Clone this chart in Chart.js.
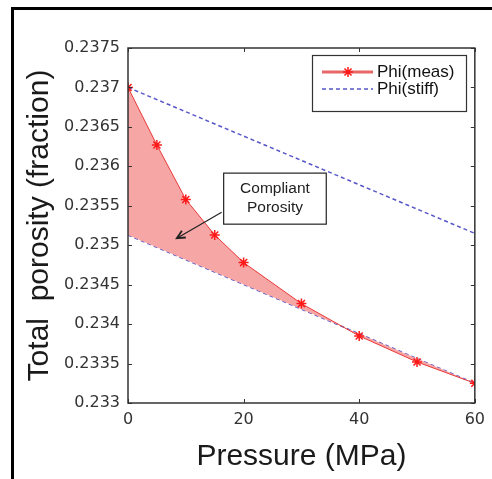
<!DOCTYPE html>
<html>
<head>
<meta charset="utf-8">
<script src="https://cdn.jsdelivr.net/npm/chart.js@4.4.1/dist/chart.umd.min.js"></script>
<style>
  body { margin: 0; background: #fff; }
  canvas { display: block; }
</style>
</head>
<body>
<canvas id="porosity-chart" width="492" height="479"></canvas>
<script>
// pressure steps (MPa) and measured total porosity
var pressure = [0, 5, 10, 15, 20, 30, 40, 50, 60];
var phiMeas = [0.23700, 0.23627, 0.23558, 0.23513, 0.23478, 0.23426, 0.23385, 0.23352, 0.23325];

// stiff porosity lines (end points)
var stiffPressure = [0, 60];
var phiStiffTop = [0.23700, 0.23515];
var phiStiffLow = [0.23513, 0.23325];

var xTicks = [0, 20, 40, 60];
var yTicks = [0.233, 0.2335, 0.234, 0.2345, 0.235, 0.2355, 0.236, 0.2365, 0.237, 0.2375];
var seriesNames = ["Phi(meas)", "Phi(stiff)"];
var noteLines = ["Compliant", "Porosity"];

// note box and arrow, in data units
var noteBox = { x0: 16.55, y0: 0.235914, x1: 34.3, y1: 0.235267 };
var noteArrow = { x0: 16.2, y0: 0.235419, x1: 8.45, y1: 0.235089 };

var RED = "#ff1a1a";
var BLUE = "#5656c8";

function toXY(xs, ys) {
  var pts = [];
  for (var i = 0; i < xs.length; i++) pts.push({ x: xs[i], y: ys[i] });
  return pts;
}

function drawStar(ctx, x, y, r) {
  ctx.beginPath();
  for (var a = 0; a < 4; a++) {
    var ang = a * Math.PI / 4;
    ctx.moveTo(x - r * Math.cos(ang), y - r * Math.sin(ang));
    ctx.lineTo(x + r * Math.cos(ang), y + r * Math.sin(ang));
  }
  ctx.stroke();
}

var decorations = {
  id: "decorations",
  beforeDraw: function (chart) {
    var ctx = chart.ctx;
    ctx.save();
    ctx.fillStyle = "#fff";
    ctx.fillRect(0, 0, chart.width, chart.height);
    // outer frame (only top and left visible)
    ctx.strokeStyle = "#000";
    ctx.lineWidth = 3;
    ctx.beginPath();
    ctx.moveTo(12.5, chart.height);
    ctx.lineTo(12.5, 8.5);
    ctx.lineTo(chart.width, 8.5);
    ctx.stroke();
    ctx.restore();
  },
  afterDraw: function (chart) {
    var ctx = chart.ctx;
    var a = chart.chartArea;
    var xs = chart.scales.x, ys = chart.scales.y;
    ctx.save();

    // box around plot
    ctx.strokeStyle = "#333";
    ctx.lineWidth = 1.5;
    ctx.strokeRect(a.left, a.top, a.right - a.left, a.bottom - a.top);

    // inner tick marks on all four sides
    ctx.lineWidth = 1;
    ctx.beginPath();
    xs.ticks.forEach(function (t) {
      var px = Math.round(xs.getPixelForValue(t.value)) + 0.5;
      ctx.moveTo(px, a.bottom); ctx.lineTo(px, a.bottom - 4);
      ctx.moveTo(px, a.top); ctx.lineTo(px, a.top + 4);
    });
    ys.ticks.forEach(function (t) {
      var py = Math.round(ys.getPixelForValue(t.value)) + 0.5;
      ctx.moveTo(a.left, py); ctx.lineTo(a.left + 4, py);
      ctx.moveTo(a.right, py); ctx.lineTo(a.right - 4, py);
    });
    ctx.stroke();

    // legend
    var lx = 312, ly = 55, lw = 154, lh = 56;
    ctx.fillStyle = "#fff";
    ctx.fillRect(lx, ly, lw, lh);
    ctx.strokeStyle = "#333";
    ctx.lineWidth = 1.2;
    ctx.strokeRect(lx + 0.5, ly + 0.5, lw, lh);

    ctx.lineWidth = 3;
    ctx.strokeStyle = "#e86868";
    ctx.beginPath(); ctx.moveTo(322, 72); ctx.lineTo(373, 72); ctx.stroke();
    ctx.strokeStyle = RED;
    ctx.lineWidth = 1.5;
    drawStar(ctx, 348, 72, 5);

    ctx.strokeStyle = BLUE;
    ctx.lineWidth = 1.5;
    ctx.setLineDash([4, 3]);
    ctx.beginPath(); ctx.moveTo(322, 89); ctx.lineTo(373, 89); ctx.stroke();
    ctx.setLineDash([]);

    ctx.fillStyle = "#111";
    ctx.font = "17px 'Liberation Sans', Arial, sans-serif";
    ctx.textAlign = "left";
    ctx.textBaseline = "middle";
    ctx.fillText(seriesNames[0], 377, 72);
    ctx.fillText(seriesNames[1], 377, 89);

    // note box
    var bx0 = xs.getPixelForValue(noteBox.x0), by0 = ys.getPixelForValue(noteBox.y0);
    var bx1 = xs.getPixelForValue(noteBox.x1), by1 = ys.getPixelForValue(noteBox.y1);
    ctx.fillStyle = "#fff";
    ctx.fillRect(bx0, by0, bx1 - bx0, by1 - by0);
    ctx.strokeStyle = "#222";
    ctx.lineWidth = 1.2;
    ctx.strokeRect(bx0, by0, bx1 - bx0, by1 - by0);
    ctx.fillStyle = "#222";
    ctx.font = "15.5px 'Liberation Sans', Arial, sans-serif";
    ctx.textAlign = "center";
    var cx = (bx0 + bx1) / 2, cy = (by0 + by1) / 2;
    ctx.fillText(noteLines[0], cx, cy - 10);
    ctx.fillText(noteLines[1], cx, cy + 9);

    // arrow
    var ax0 = xs.getPixelForValue(noteArrow.x0), ay0 = ys.getPixelForValue(noteArrow.y0);
    var ax1 = xs.getPixelForValue(noteArrow.x1), ay1 = ys.getPixelForValue(noteArrow.y1);
    ctx.strokeStyle = "#222";
    ctx.lineWidth = 1.2;
    ctx.beginPath(); ctx.moveTo(ax0, ay0); ctx.lineTo(ax1, ay1); ctx.stroke();
    var ang = Math.atan2(ay1 - ay0, ax1 - ax0);
    ctx.lineWidth = 1.8;
    ctx.beginPath();
    ctx.moveTo(ax1 - 9 * Math.cos(ang - 0.45), ay1 - 9 * Math.sin(ang - 0.45));
    ctx.lineTo(ax1, ay1);
    ctx.lineTo(ax1 - 9 * Math.cos(ang + 0.45), ay1 - 9 * Math.sin(ang + 0.45));
    ctx.stroke();

    ctx.restore();
  }
};

new Chart(document.getElementById("porosity-chart"), {
  type: "line",
  data: {
    datasets: [{
      label: seriesNames[0],
      data: toXY(pressure, phiMeas),
      borderColor: "#e83a3a",
      borderWidth: 1,
      backgroundColor: "#f7a6a6",
      fill: { target: 2 },
      pointStyle: "star",
      pointRadius: 5,
      pointBorderColor: RED,
      pointBorderWidth: 1.5,
      tension: 0
    }, {
      label: seriesNames[1],
      data: toXY(stiffPressure, phiStiffTop),
      borderColor: BLUE,
      borderWidth: 1.5,
      borderDash: [4, 3],
      pointRadius: 0,
      fill: false
    }, {
      label: seriesNames[1],
      data: toXY(stiffPressure, phiStiffLow),
      borderColor: BLUE,
      borderWidth: 1.5,
      borderDash: [4, 3],
      pointRadius: 0,
      fill: false
    }]
  },
  options: {
    responsive: false,
    animation: false,
    layout: { padding: { top: 48, right: 16, left: 0, bottom: 0 } },
    plugins: {
      legend: { display: false },
      tooltip: { enabled: false }
    },
    scales: {
      x: {
        type: "linear",
        min: 0,
        max: 60,
        afterBuildTicks: function (s) { s.ticks = xTicks.map(function (v) { return { value: v }; }); },
        afterFit: function (s) { s.height = 76; },
        grid: { display: false, drawTicks: false },
        border: { display: false },
        ticks: {
          padding: 7,
          color: "#333",
          font: { family: "'DejaVu Sans', sans-serif", size: 16 }
        },
        title: {
          display: true,
          text: "Pressure (MPa)",
          color: "#1a1a1a",
          font: { family: "'Liberation Sans', Arial, sans-serif", size: 30, lineHeight: 1 },
          padding: { top: 0, bottom: 7 }
        }
      },
      y: {
        type: "linear",
        min: 0.233,
        max: 0.2375,
        afterBuildTicks: function (s) { s.ticks = yTicks.map(function (v) { return { value: v }; }); },
        afterFit: function (s) { s.width = 128; },
        grid: { display: false, drawTicks: false },
        border: { display: false },
        ticks: {
          padding: 8,
          color: "#333",
          font: { family: "'DejaVu Sans', sans-serif", size: 16 },
          callback: function (v) { return String(parseFloat(v.toFixed(4))); }
        },
        title: {
          display: true,
          text: "Total  porosity (fraction)",
          color: "#1a1a1a",
          font: { family: "'Liberation Sans', Arial, sans-serif", size: 30, lineHeight: 1 },
          padding: { top: 25, bottom: 0 }
        }
      }
    }
  },
  plugins: [decorations]
});
</script>
</body>
</html>
